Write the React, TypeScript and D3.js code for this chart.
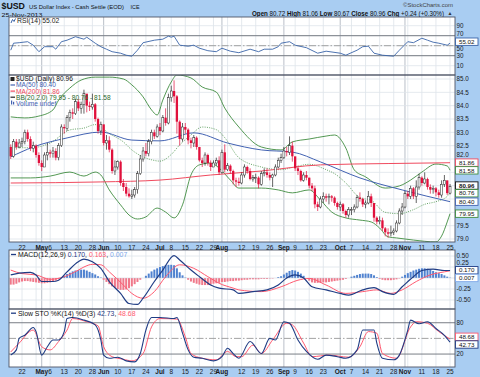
import React from "react";
import * as d3 from "d3";

// ---------------- data ----------------
const FIRST_DAY = "2013-04-16";
const LAST_DAY = "2013-11-25";
const HOLIDAYS = ["2013-05-27", "2013-07-04", "2013-09-02"];
const FIRST_OPEN = 82.45;

const CLOSE = [
  82.10, 82.65, 82.45, 82.60,
  82.65, 83.00, 82.75, 82.40, 82.50, 82.15, 81.85,
  81.70, 82.15, 82.25,
  82.20, 82.30, 82.05, 82.50, 83.20,
  83.15, 83.55, 83.75, 83.70, 84.15,
  83.90, 84.05, 84.45, 84.00, 83.95,
  84.05, 83.50, 83.05, 83.30,
  82.60, 82.70, 82.35, 81.55, 81.70,
  81.90, 81.10, 80.95, 80.70, 80.60,
  80.65, 80.85, 81.45, 82.00, 82.30,
  82.20, 82.65, 83.00, 82.85, 83.20,
  83.05, 83.55, 83.35, 84.30,
  84.55, 84.35, 83.40, 82.75, 83.20,
  83.10, 82.70, 82.60, 82.80, 82.45,
  81.95, 81.85, 82.15, 81.85, 81.70,
  81.85, 81.95, 81.50, 82.25, 81.60,
  81.75, 81.55, 81.20, 81.15, 81.10,
  81.40, 81.70, 81.55, 81.25, 81.30,
  81.30, 81.05, 81.45, 81.50, 81.40,
  81.30, 81.40, 81.70, 81.95, 82.05,
  82.30, 82.25, 82.50, 82.10,
  81.65, 81.55, 81.20, 81.40, 81.30,
  81.00, 80.90, 80.30, 80.20, 80.50,
  80.60, 80.55, 80.60, 80.55, 80.35,
  80.20, 80.30, 80.05, 79.90, 80.10,
  80.10, 80.20, 80.55, 80.50, 80.30,
  80.35, 80.60, 80.35, 79.80, 79.65,
  79.70, 79.40, 79.25, 79.20, 79.25,
  79.30, 79.60, 80.05, 80.20, 80.70,
  80.60, 80.90, 80.60, 80.95, 81.30,
  81.10, 81.25, 80.95, 80.85, 80.90,
  80.75, 80.65, 81.05, 81.20, 80.72,
  80.96,
];
const HIGH = [
  82.55, 82.75, 82.75, 82.75,
  82.80, 83.10, 83.10, 82.85, 82.65, 82.55, 82.25,
  81.95, 82.25, 82.60,
  82.35, 82.45, 82.40, 82.60, 83.30,
  83.30, 83.65, 83.85, 83.90, 84.25,
  84.25, 84.15, 84.60, 84.35, 84.15,
  84.45, 84.10, 83.55, 83.40,
  83.25, 82.90, 82.85, 82.40, 81.95,
  81.95, 81.95, 81.25, 81.10, 80.90,
  80.85, 80.95, 81.55, 82.15, 82.45,
  82.60, 82.75, 83.10, 83.10, 83.30,
  83.35, 83.65, 83.90, 84.45,
  84.75, 84.95, 84.40, 83.45, 83.35,
  83.35, 83.15, 82.80, 82.90, 82.85,
  82.45, 82.05, 82.25, 82.20, 81.95,
  81.95, 82.05, 82.10, 82.35, 82.55,
  81.85, 81.80, 81.60, 81.30, 81.30,
  81.50, 81.80, 81.75, 81.65, 81.40,
  81.45, 81.35, 81.55, 81.65, 81.65,
  81.50, 81.45, 81.80, 82.05, 82.20,
  82.45, 82.45, 82.85, 82.65,
  82.05, 81.75, 81.60, 81.50, 81.55,
  81.30, 81.10, 81.00, 80.40, 80.60,
  80.75, 80.70, 80.70, 80.65, 80.60,
  80.40, 80.40, 80.35, 80.10, 80.20,
  80.20, 80.30, 80.65, 80.75, 80.55,
  80.45, 80.80, 80.70, 80.35, 79.85,
  79.85, 79.80, 79.45, 79.40, 79.50,
  79.40, 79.70, 80.15, 80.35, 80.80,
  80.80, 81.00, 80.95, 81.20, 81.45,
  81.35, 81.50, 81.30, 81.05, 81.00,
  80.95, 80.85, 81.20, 81.40, 81.10,
  81.06,
];
const LOW = [
  82.00, 82.05, 82.35, 82.40,
  82.45, 82.55, 82.65, 82.30, 82.25, 82.05, 81.75,
  81.55, 81.70, 81.95,
  82.05, 82.05, 81.95, 81.95, 82.45,
  82.95, 83.05, 83.40, 83.50, 83.65,
  83.80, 83.70, 83.70, 83.75, 83.80,
  83.85, 83.40, 82.95, 82.90,
  82.50, 82.35, 82.25, 81.45, 81.40,
  81.60, 81.00, 80.80, 80.60, 80.55,
  80.50, 80.55, 80.70, 81.40, 81.90,
  82.10, 82.10, 82.55, 82.75, 82.80,
  82.90, 83.00, 83.25, 83.30,
  84.15, 84.10, 82.95, 82.50, 82.65,
  82.95, 82.55, 82.40, 82.45, 82.35,
  81.90, 81.70, 81.75, 81.75, 81.55,
  81.70, 81.75, 81.40, 81.45, 81.50,
  81.55, 81.45, 81.05, 80.95, 81.00,
  81.05, 81.30, 81.45, 81.20, 81.15,
  81.10, 80.90, 81.00, 81.35, 81.30,
  81.20, 80.95, 81.35, 81.65, 81.85,
  82.00, 82.10, 82.15, 81.90,
  81.55, 81.40, 81.15, 81.15, 81.20,
  80.90, 80.80, 80.15, 80.05, 80.15,
  80.35, 80.40, 80.30, 80.40, 80.25,
  80.10, 80.05, 79.95, 79.80, 79.80,
  79.90, 80.00, 80.15, 80.40, 80.20,
  80.15, 80.30, 80.20, 79.65, 79.55,
  79.55, 79.30, 79.10, 79.05, 79.10,
  79.15, 79.25, 79.55, 79.90, 80.15,
  80.50, 80.50, 80.50, 80.35, 80.85,
  81.00, 81.05, 80.85, 80.70, 80.70,
  80.60, 80.55, 80.55, 80.95, 80.65,
  80.67,
];

// indicator readings: [trading-day index, value]
const MA50: [number, number][] = [
  [0, 82.08], [8, 82.45], [20, 82.79], [32, 83.01], [43, 82.71], [53, 82.68], [65, 82.98],
  [77, 82.6], [89, 82.34], [100, 82.26], [110, 81.89], [124, 81.29], [139, 80.84], [156, 80.4],
];
const MA200: [number, number][] = [
  [0, 81.1], [32, 81.14], [53, 81.21], [71, 81.4], [89, 81.55], [110, 81.78], [134, 81.83], [156, 81.86],
];
const BB_UPPER: [number, number][] = [
  [0, 83.58], [5, 83.54], [10, 83.61], [15, 83.84], [17, 84.21], [21, 84.66], [25, 84.96], [30, 85.07],
  [35, 85.07], [40, 85.0], [43, 84.78], [47, 84.33], [50, 83.84], [52, 83.65], [54, 84.21], [57, 84.89],
  [59, 85.15], [64, 85.04], [68, 84.7], [73, 84.51], [76, 83.91], [81, 83.2], [89, 82.45], [96, 82.34],
  [100, 82.64], [106, 82.75], [112, 82.86], [115, 82.9], [119, 82.41], [122, 81.59], [126, 81.33],
  [133, 80.91], [138, 80.99], [142, 81.21], [146, 81.51], [151, 81.81], [155, 81.74], [156, 81.58],
];
const BB_MID: [number, number][] = [
  [0, 82.44], [7, 82.42], [14, 82.6], [21, 83.09], [26, 83.16], [30, 83.29], [35, 82.95], [40, 82.64],
  [43, 82.34], [47, 82.08], [50, 81.97], [53, 81.92], [57, 82.17], [60, 82.53], [64, 82.9], [68, 83.2],
  [73, 83.1], [76, 82.8], [81, 82.05], [89, 81.7], [96, 81.6], [100, 81.68], [106, 81.8], [112, 81.6],
  [115, 81.45], [119, 81.1], [124, 80.55], [128, 80.45], [133, 80.0], [138, 79.95], [143, 80.1],
  [147, 80.3], [151, 80.4], [155, 80.6], [156, 80.76],
];
const BB_LOWER: [number, number][] = [
  [0, 81.29], [7, 81.29], [14, 81.36], [21, 81.51], [26, 81.36], [30, 81.51], [32, 81.4], [35, 80.84],
  [39, 80.28], [42, 79.9], [45, 79.75], [48, 79.83], [52, 80.16], [55, 80.01], [58, 79.79], [61, 80.28],
  [64, 81.4], [67, 81.78], [71, 81.85], [74, 81.66], [78, 81.21], [81, 80.91], [89, 80.91], [95, 80.84],
  [100, 80.73], [106, 80.84], [110, 80.46], [114, 80.01], [119, 79.79], [124, 79.71], [128, 79.64],
  [131, 79.41], [134, 79.08], [137, 79.04], [143, 78.96], [151, 78.89], [153, 79.11], [155, 79.64],
  [156, 79.95],
];
const RSI: [number, number][] = [
  [0, 41], [1, 55], [3, 56], [6, 58], [8, 51], [10, 38], [12, 48], [15, 48], [16, 43], [18, 58], [20, 61],
  [23, 68], [26, 63], [27, 67], [30, 55], [32, 48], [34, 43], [36, 38], [39, 35], [41, 31], [43, 29],
  [45, 41], [47, 56], [51, 61], [54, 63], [56, 69], [57, 67], [58, 69], [60, 51], [63, 49], [65, 51],
  [67, 45], [70, 40], [73, 38], [75, 45], [78, 39], [81, 36], [85, 43], [88, 38], [90, 43], [93, 43],
  [95, 48], [96, 55], [98, 57], [99, 58], [101, 51], [105, 46], [109, 35], [112, 39], [117, 35],
  [119, 31], [123, 41], [125, 48], [127, 49], [129, 35], [132, 31], [136, 29], [138, 41], [141, 58],
  [143, 56], [146, 65], [148, 61], [150, 57], [152, 55], [155, 51], [156, 55.02],
];
const MACD: [number, number][] = [
  [0, 0.07], [3, 0.11], [7, 0.13], [9, 0.07], [11, -0.08], [15, -0.08], [17, -0.05], [20, 0.14],
  [24, 0.37], [26, 0.43], [29, 0.37], [32, 0.22], [35, -0.08], [39, -0.35], [42, -0.58], [45, -0.6],
  [47, -0.46], [51, -0.08], [54, 0.18], [58, 0.51], [60, 0.41], [64, 0.18], [67, 0.03], [71, -0.16],
  [74, -0.23], [79, -0.27], [81, -0.35], [86, -0.31], [91, -0.27], [95, -0.16], [98, 0.0], [101, 0.07],
  [104, 0.0], [107, -0.2], [112, -0.27], [117, -0.35], [120, -0.39], [125, -0.27], [129, -0.22],
  [132, -0.31], [136, -0.37], [139, -0.2], [143, 0.03], [146, 0.17], [150, 0.2], [154, 0.17], [156, 0.17],
];
const MACD_SIGNAL: [number, number][] = [
  [0, 0.18], [4, 0.1], [9, 0.07], [14, -0.03], [19, 0.03], [24, 0.18], [26, 0.25], [29, 0.31],
  [32, 0.3], [35, 0.14], [40, -0.16], [43, -0.35], [47, -0.46], [51, -0.31], [55, 0.03], [60, 0.3],
  [65, 0.22], [70, 0.03], [74, -0.12], [79, -0.23], [81, -0.27], [89, -0.31], [96, -0.2], [102, -0.05],
  [106, -0.01], [112, -0.16], [119, -0.35], [125, -0.31], [130, -0.27], [135, -0.35], [139, -0.27],
  [144, -0.08], [149, 0.07], [154, 0.14], [156, 0.163],
];
const MACD_HIST = [
  -0.15, -0.15, -0.13, -0.10, -0.08, -0.07, -0.07, -0.08, -0.09, -0.10, -0.11, -0.12, -0.12, -0.11,
  -0.10, -0.08, -0.06, -0.03, 0.01, 0.05, 0.09, 0.12, 0.15, 0.17, 0.18, 0.19, 0.19, 0.17, 0.14, 0.11,
  0.08, 0.04, 0.01, -0.04, -0.09, -0.14, -0.19, -0.22, -0.25, -0.27, -0.27, -0.26, -0.23, -0.19,
  -0.14, -0.09, -0.04, 0.0, 0.05, 0.10, 0.15, 0.19, 0.22, 0.25, 0.27, 0.29, 0.30, 0.30, 0.29, 0.22,
  0.13, 0.06, 0.01, -0.04, -0.08, -0.11, -0.13, -0.15, -0.16, -0.16, -0.16, -0.15, -0.13, -0.12,
  -0.11, -0.09, -0.09, -0.08, -0.07, -0.07, -0.06, -0.06, -0.05, -0.04, -0.04, -0.03, -0.03, -0.03,
  -0.03, -0.02, -0.02, -0.02, -0.01, -0.01, 0.0, 0.02, 0.04, 0.08, 0.12, 0.16, 0.18, 0.17, 0.14,
  0.10, 0.05, -0.01, -0.06, -0.10, -0.11, -0.11, -0.11, -0.10, -0.10, -0.09, -0.08, -0.07, -0.06,
  -0.05, -0.04, -0.02, 0.0, 0.03, 0.05, 0.07, 0.09, 0.10, 0.10, 0.10, 0.09, 0.06, 0.02, -0.02,
  -0.04, -0.05, -0.05, -0.05, -0.04, -0.03, -0.01, 0.03, 0.07, 0.11, 0.14, 0.17, 0.19, 0.21, 0.22,
  0.22, 0.21, 0.19, 0.16, 0.13, 0.11, 0.09, 0.06, 0.03, 0.007,
];
const STO_K: [number, number][] = [
  [0, 18], [2, 28], [3, 50], [5, 56], [8, 71], [9, 63], [11, 18], [13, 34], [15, 47], [17, 47], [19, 63],
  [20, 88], [22, 90], [26, 85], [30, 76], [32, 47], [33, 18], [35, 12], [38, 14], [41, 7], [44, 5],
  [46, 21], [48, 66], [50, 90], [53, 90], [58, 88], [59, 90], [61, 60], [63, 28], [65, 14], [68, 12],
  [72, 7], [75, 15], [77, 31], [79, 21], [81, 12], [85, 44], [89, 21], [92, 50], [94, 47], [97, 82],
  [99, 79], [102, 47], [105, 25], [109, 10], [112, 18], [116, 15], [119, 12], [123, 28], [125, 66],
  [129, 66], [130, 41], [132, 12], [136, 9], [138, 18], [141, 66], [142, 85], [145, 78], [148, 82],
  [151, 69], [154, 56], [156, 42.73],
];
const STO_D: [number, number][] = [
  [0, 24], [3, 41], [8, 66], [11, 34], [14, 28], [17, 44], [20, 66], [22, 88], [27, 82], [31, 74],
  [33, 34], [36, 15], [40, 10], [43, 7], [47, 21], [50, 72], [53, 88], [59, 87], [62, 53], [64, 21],
  [68, 12], [73, 9], [77, 25], [80, 15], [82, 15], [86, 37], [89, 21], [93, 47], [98, 79], [100, 76],
  [104, 41], [107, 15], [113, 18], [120, 14], [124, 34], [127, 63], [130, 60], [132, 21], [137, 12],
  [142, 72], [144, 82], [148, 79], [152, 63], [156, 48.68],
];

const DATE_TICKS: [string, string][] = [
  ["2013-04-22", "22"], ["2013-05-01", "May"], ["2013-05-06", "6"], ["2013-05-13", "13"],
  ["2013-05-20", "20"], ["2013-05-28", "28"], ["2013-06-03", "Jun"], ["2013-06-10", "10"],
  ["2013-06-17", "17"], ["2013-06-24", "24"], ["2013-07-01", "Jul"], ["2013-07-08", "8"],
  ["2013-07-15", "15"], ["2013-07-22", "22"], ["2013-07-29", "29"], ["2013-08-01", "Aug"],
  ["2013-08-12", "12"], ["2013-08-19", "19"], ["2013-08-26", "26"], ["2013-09-03", "Sep"],
  ["2013-09-09", "9"], ["2013-09-16", "16"], ["2013-09-23", "23"], ["2013-10-01", "Oct"],
  ["2013-10-07", "7"], ["2013-10-14", "14"], ["2013-10-21", "21"], ["2013-10-28", "28"],
  ["2013-11-01", "Nov"], ["2013-11-11", "11"], ["2013-11-18", "18"], ["2013-11-25", "25"],
];
const MONTH_LABELS = ["May", "Jun", "Jul", "Aug", "Sep", "Oct", "Nov"];
const GRID_ONLY_DATES = ["2013-04-29", "2013-08-05", "2013-11-04"];

const PRICE_TICKS = [79, 79.5, 80, 80.5, 81, 81.5, 82, 82.5, 83, 83.5, 84, 84.5, 85];
const RSI_TICKS = [90, 70, 50, 30, 10];
const MACD_TICKS = [0.5, 0.25, -0.25, -0.5];
const STO_TICKS = [80, 20];

const HEADER_FIELDS: [string, string][] = [
  ["Open", "80.72"], ["High", "81.06"], ["Low", "80.67"], ["Close", "80.96"], ["Chg", "+0.24 (+0.30%)"],
];

// ---------------- styling ----------------
const FONT = "'Liberation Sans', Arial, Helvetica, sans-serif";
const FRAME = "#a9cdf2";
const GRID = "#dde3ea";
const GRID_MONTH = "#a7afba";
const BORDER = "#4e5566";
const RED = "#e0103c";
const C_MA50 = "#4262b2";
const C_MA200 = "#f04a5e";
const C_BB = "#3f8c3f";
const C_RSI = "#3a64a8";
const C_NAVY = "#1f3c84";
const C_PINK = "#ff5a70";

const PL = 9;
const PR = 455;
const STEP = 2.816;
const BOX_H = 7.4;
const PANELS = {
  rsi: { top: 17, bottom: 75 },
  price: { top: 75, bottom: 242 },
  macd: { top: 250, bottom: 309 },
  sto: { top: 309, bottom: 367 },
};

const parse = d3.timeParse("%Y-%m-%d");
const fmt = d3.timeFormat("%Y-%m-%d");

type Box = { y: number; text: string; color: string; bold?: boolean };

function ValBox({ y, text, color, bold }: Box) {
  return (
    <g>
      <rect x={455.5} y={y - BOX_H / 2} width={22.5} height={BOX_H} fill="#fff" stroke={color} strokeWidth={0.9} />
      <text x={466.7} y={y + 2.2} fontSize={6.2} textAnchor="middle" fill="#111" fontWeight={bold ? "bold" : "normal"}>
        {text}
      </text>
    </g>
  );
}

function spread(items: Box[], gap: number) {
  const s = items.map((b) => ({ ...b })).sort((a, b) => a.y - b.y);
  for (let k = 0; k < 6; k++) {
    for (let i = 1; i < s.length; i++) {
      const d = s[i].y - s[i - 1].y;
      if (d < gap) {
        const m = (gap - d) / 2;
        s[i - 1].y -= m;
        s[i].y += m;
      }
    }
  }
  return s;
}

// axis label placement: hide labels that sit under a value box, push near ones clear of it
function placeLabel(y: number, boxes: Box[]): number | null {
  let yy = y;
  for (const b of boxes) {
    const d = yy - b.y;
    if (Math.abs(d) < 3.2) return null;
    if (Math.abs(d) < 7.6) yy = d < 0 ? b.y - 7.6 : b.y + 7.6;
  }
  return yy;
}

export default function App() {
  const days = d3.timeDay
    .range(parse(FIRST_DAY)!, d3.timeDay.offset(parse(LAST_DAY)!, 1))
    .filter((d) => d.getDay() !== 0 && d.getDay() !== 6 && !HOLIDAYS.includes(fmt(d)));
  const idx = new Map(days.map((d, i) => [fmt(d), i]));
  const n = days.length;
  const x = d3.scaleLinear().domain([0, n - 1]).range([22 - 4 * STEP, 22 + (n - 5) * STEP]);

  const yP = d3.scaleLinear().domain([79, 85]).range([239, 79]);
  const yR = d3.scaleLinear().domain([0, 100]).range([70.7, 20.7]);
  const yM = d3.scaleLinear().domain([-0.5, 0.5]).range([300, 256]);
  const yS = d3.scaleLinear().domain([0, 100]).range([364.5, 312.3]);

  const mk = (y: d3.ScaleLinear<number, number>, curve: d3.CurveFactory) =>
    d3.line<[number, number]>().x((d) => x(d[0])).y((d) => y(d[1])).curve(curve);

  const smoothP = mk(yP, d3.curveMonotoneX);
  const lineR = mk(yR, d3.curveLinear);
  const lineM = mk(yM, d3.curveMonotoneX);
  const lineS = mk(yS, d3.curveMonotoneX);

  const tickPos = DATE_TICKS.map(([d, l]) => ({ pos: idx.get(d) ?? 0, label: l, month: MONTH_LABELS.includes(l) }));
  const gridPos = [
    ...tickPos,
    ...GRID_ONLY_DATES.map((d) => ({ pos: idx.get(d) ?? 0, label: "", month: false })),
  ];

  const vGrid = (top: number, bottom: number) =>
    gridPos.map((t, i) => (
      <line key={"vg" + i} x1={x(t.pos)} x2={x(t.pos)} y1={top} y2={bottom} stroke={t.month ? GRID_MONTH : GRID} strokeWidth={0.8} />
    ));

  const rsiBoxes: Box[] = [{ y: yR(55.02) - 1.5, text: "55.02", color: C_RSI }];
  const priceBoxes = spread(
    [
      { y: yP(81.86), text: "81.86", color: C_MA200 },
      { y: yP(81.58), text: "81.58", color: C_BB },
      { y: yP(80.96), text: "80.96", color: "#111", bold: true },
      { y: yP(80.76), text: "80.76", color: C_BB },
      { y: yP(80.4), text: "80.40", color: C_MA50 },
      { y: yP(79.95), text: "79.95", color: C_BB },
    ],
    BOX_H + 0.3
  );
  const macdBoxes = spread(
    [
      { y: yM(0.17), text: "0.170", color: C_NAVY },
      { y: yM(0.007), text: "0.007", color: "#7fa8e8" },
    ],
    BOX_H + 0.3
  );
  const stoBoxes = spread(
    [
      { y: yS(48.68), text: "48.68", color: C_PINK },
      { y: yS(42.73), text: "42.73", color: C_NAVY },
    ],
    BOX_H + 0.3
  );

  const axisLabels = (ticks: number[], y: d3.ScaleLinear<number, number>, boxes: Box[], f: (v: number) => string, k: string) =>
    ticks.map((v) => {
      const yy = placeLabel(y(v), boxes);
      if (yy === null) return null;
      return (
        <text key={k + v} x={456.5} y={yy + 2.2} fontSize={6.3} fill="#1a1a1a">
          {f(v)}
        </text>
      );
    });

  const dashDot = "7,2,1.5,2";

  return (
    <svg
      width={480}
      height={377}
      viewBox="0 0 480 377"
      style={{ position: "absolute", left: 0, top: 0, display: "block" }}
      fontFamily={FONT}
    >
      <defs>
        {Object.entries(PANELS).map(([k, p]) => (
          <clipPath id={"clip-" + k} key={k}>
            <rect x={PL} y={p.top} width={PR - PL} height={p.bottom - p.top} />
          </clipPath>
        ))}
      </defs>
      <rect x={0} y={0} width={480} height={377} fill={FRAME} />

      {/* header */}
      <text x={1.5} y={8.9} fontSize={8.8} fontWeight="bold" fill="#111">$USD</text>
      <text x={29} y={9} fontSize={6.2} fill="#111" textLength={95} lengthAdjust="spacingAndGlyphs">
        US Dollar Index - Cash Settle (EOD)
      </text>
      <text x={130.5} y={9} fontSize={5.4} fill="#111">ICE</text>
      <text x={1.5} y={16.6} fontSize={6.2} fill="#111" textLength={41} lengthAdjust="spacingAndGlyphs">25-Nov-2013</text>
      <text x={403} y={6.8} fontSize={6.2} fill="#444" textLength={50} lengthAdjust="spacingAndGlyphs">©StockCharts.com</text>
      <text x={252} y={15.6} fontSize={6.3} fill="#111" textLength={192} lengthAdjust="spacingAndGlyphs">
        {HEADER_FIELDS.map(([k, v], i) => (
          <tspan key={k}>
            <tspan fontWeight="bold">{k}</tspan>
            <tspan>{" " + v + (i < HEADER_FIELDS.length - 1 ? " " : "")}</tspan>
          </tspan>
        ))}
      </text>
      <text x={447.5} y={15.4} fontSize={5} fill="#333">▲</text>

      {/* panel backgrounds */}
      {Object.entries(PANELS).map(([k, p]) => (
        <rect key={"bg" + k} x={PL} y={p.top} width={PR - PL} height={p.bottom - p.top} fill="#fff" />
      ))}

      {/* ---------- RSI panel ---------- */}
      <g>
        {vGrid(PANELS.rsi.top, PANELS.rsi.bottom)}
        {RSI_TICKS.map((v) => (
          <line key={"rg" + v} x1={PL} x2={PR} y1={yR(v)} y2={yR(v)} stroke={GRID} strokeWidth={0.8} />
        ))}
        <line x1={PL} x2={PR} y1={yR(70)} y2={yR(70)} stroke="#6b6f78" strokeWidth={0.9} />
        <line x1={PL} x2={PR} y1={yR(30)} y2={yR(30)} stroke="#6b6f78" strokeWidth={0.9} />
        <line x1={PL} x2={PR} y1={yR(50)} y2={yR(50)} stroke="#999" strokeWidth={0.9} strokeDasharray={dashDot} />
        <g clipPath="url(#clip-rsi)">
          <path d={lineR(RSI) ?? ""} fill="none" stroke={C_RSI} strokeWidth={0.9} />
        </g>
        <path d="M11,23 L12.5,19.5 L14,21.5 L15.5,18.5" fill="none" stroke={C_RSI} strokeWidth={1} />
        <text x={17} y={23} fontSize={6.8} fill="#222">RSI(14) 55.02</text>
      </g>

      {/* ---------- price panel ---------- */}
      <g>
        {vGrid(PANELS.price.top, PANELS.price.bottom)}
        {PRICE_TICKS.map((v) => (
          <line key={"pg" + v} x1={PL} x2={PR} y1={yP(v)} y2={yP(v)} stroke={GRID} strokeWidth={0.8} />
        ))}
        <g clipPath="url(#clip-price)">
          <path d={smoothP(BB_UPPER) ?? ""} fill="none" stroke={C_BB} strokeWidth={0.9} />
          <path d={smoothP(BB_LOWER) ?? ""} fill="none" stroke={C_BB} strokeWidth={0.9} />
          <path d={smoothP(BB_MID) ?? ""} fill="none" stroke={C_BB} strokeWidth={0.8} strokeDasharray="1,1.3" />
          <path d={smoothP(MA200) ?? ""} fill="none" stroke={C_MA200} strokeWidth={1} />
          <path d={smoothP(MA50) ?? ""} fill="none" stroke={C_MA50} strokeWidth={1} />
          {CLOSE.map((c, i) => {
            const o = i === 0 ? FIRST_OPEN : CLOSE[i - 1];
            const up = c >= o;
            const cx = x(i);
            const yTop = yP(Math.max(o, c));
            const h = Math.max(0.8, Math.abs(yP(o) - yP(c)));
            return (
              <g key={"c" + i}>
                <line x1={cx} x2={cx} y1={yP(HIGH[i])} y2={yP(LOW[i])} stroke={up ? "#222" : RED} strokeWidth={0.7} />
                {up ? (
                  <rect x={cx - 1} y={yTop} width={2} height={h} fill="#fff" stroke="#222" strokeWidth={0.5} />
                ) : (
                  <rect x={cx - 1.15} y={yTop} width={2.3} height={h} fill={RED} />
                )}
              </g>
            );
          })}
        </g>
        {/* legend */}
        <rect x={10.5} y={77} width={4} height={4} fill="#222" />
        <text x={16} y={81.3} fontSize={6.6} fill="#111">$USD (Daily) 80.96</text>
        <line x1={10.5} x2={15} y1={85} y2={85} stroke={C_MA50} strokeWidth={1.2} />
        <text x={16} y={87.4} fontSize={6.6} fill={C_MA50}>MA(50) 80.40</text>
        <line x1={10.5} x2={15} y1={91.1} y2={91.1} stroke={C_MA200} strokeWidth={1.2} />
        <text x={16} y={93.5} fontSize={6.6} fill={C_MA200}>MA(200) 81.86</text>
        <line x1={10.5} x2={15} y1={97.2} y2={97.2} stroke="#222" strokeWidth={1.2} />
        <text x={16} y={99.6} fontSize={6.6} fill="#2d6a2d">BB(20,2.0) 79.95 - 80.76 - 81.58</text>
        <rect x={11} y={100.5} width={1.2} height={4} fill={C_MA50} />
        <rect x={13} y={101.8} width={1.2} height={2.7} fill={C_MA50} />
        <text x={16} y={105.7} fontSize={6.6} fill={C_MA50}>Volume undef</text>
      </g>

      {/* ---------- MACD panel ---------- */}
      <g>
        {vGrid(PANELS.macd.top, PANELS.macd.bottom)}
        {MACD_TICKS.map((v) => (
          <line key={"mg" + v} x1={PL} x2={PR} y1={yM(v)} y2={yM(v)} stroke={GRID} strokeWidth={0.8} />
        ))}
        <g clipPath="url(#clip-macd)">
          {MACD_HIST.map((h, i) => (
            <rect
              key={"h" + i}
              x={x(i) - 1}
              y={yM(Math.max(0, h))}
              width={2}
              height={Math.abs(yM(h) - yM(0))}
              fill={h >= 0 ? "#4f82d0" : "#f0788a"}
            />
          ))}
          <line x1={PL} x2={PR} y1={yM(0)} y2={yM(0)} stroke="#c8ced8" strokeWidth={0.5} />
          <path d={lineM(MACD_SIGNAL) ?? ""} fill="none" stroke={C_PINK} strokeWidth={1} />
          <path d={lineM(MACD) ?? ""} fill="none" stroke={C_NAVY} strokeWidth={1.2} />
        </g>
        <line x1={11} x2={16} y1={254.5} y2={254.5} stroke={C_NAVY} strokeWidth={1.3} />
        <text x={18} y={256.9} fontSize={6.9} fill="#111">
          MACD(12,26,9) <tspan fill={C_NAVY}>0.170</tspan>, <tspan fill={C_PINK}>0.163</tspan>,{" "}
          <tspan fill="#7fa8e8">0.007</tspan>
        </text>
      </g>

      {/* ---------- stochastic panel ---------- */}
      <g>
        {vGrid(PANELS.sto.top, PANELS.sto.bottom)}
        <line x1={PL} x2={PR} y1={yS(80)} y2={yS(80)} stroke="#6b6f78" strokeWidth={0.9} />
        <line x1={PL} x2={PR} y1={yS(20)} y2={yS(20)} stroke="#6b6f78" strokeWidth={0.9} />
        <line x1={PL} x2={PR} y1={yS(50)} y2={yS(50)} stroke="#999" strokeWidth={0.9} strokeDasharray={dashDot} />
        <g clipPath="url(#clip-sto)">
          <path d={lineS(STO_D) ?? ""} fill="none" stroke={C_PINK} strokeWidth={1} />
          <path d={lineS(STO_K) ?? ""} fill="none" stroke={C_NAVY} strokeWidth={1.1} />
        </g>
        <line x1={11} x2={16} y1={313.2} y2={313.2} stroke={C_NAVY} strokeWidth={1.3} />
        <text x={18} y={315.6} fontSize={6.9} fill="#111">
          Slow STO %K(14) %D(3) <tspan fill={C_NAVY}>42.73</tspan>, <tspan fill={C_PINK}>48.68</tspan>
        </text>
      </g>

      {/* borders */}
      {Object.entries(PANELS).map(([k, p]) => (
        <rect key={"bd" + k} x={PL} y={p.top} width={PR - PL} height={p.bottom - p.top} fill="none" stroke={BORDER} strokeWidth={0.9} />
      ))}

      {/* date labels */}
      {[249.6, 374.4].map((yy) =>
        tickPos.map((t, i) => (
          <text
            key={"dl" + yy + i}
            x={x(t.pos)}
            y={yy}
            fontSize={6.5}
            textAnchor="middle"
            fontWeight={t.month ? "bold" : "normal"}
            fill="#1a1a1a"
          >
            {t.label}
          </text>
        ))
      )}

      {/* right axis labels */}
      {axisLabels(RSI_TICKS, yR, rsiBoxes, (v) => String(v), "rl")}
      {axisLabels(PRICE_TICKS, yP, priceBoxes, (v) => v.toFixed(1), "pl")}
      {axisLabels(MACD_TICKS, yM, macdBoxes, (v) => v.toFixed(2), "ml")}
      {axisLabels(STO_TICKS, yS, stoBoxes, (v) => String(v), "sl")}

      {/* value boxes */}
      {[...rsiBoxes, ...priceBoxes, ...macdBoxes, ...stoBoxes].map((b) => (
        <ValBox key={"vb" + b.text} y={b.y} text={b.text} color={b.color} bold={b.bold} />
      ))}
    </svg>
  );
}
